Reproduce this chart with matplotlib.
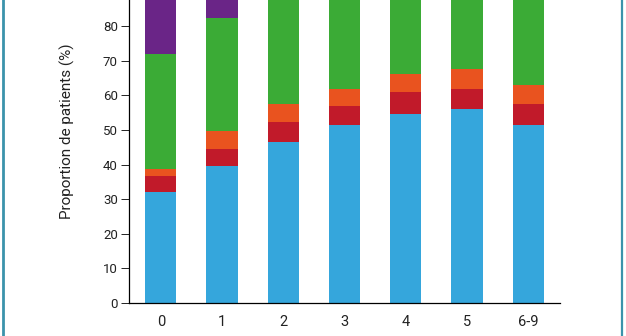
import matplotlib
matplotlib.use("Agg")
import matplotlib.pyplot as plt
import numpy as np

# Share of patients (%) per score group, stacked from bottom to top
categories = ["0", "1", "2", "3", "4", "5", "6-9"]
blue = [32.2, 39.6, 46.6, 51.4, 54.7, 56.1, 51.4]
red = [4.6, 5.0, 5.6, 5.5, 6.4, 5.8, 6.2]
orange = [1.8, 5.2, 5.3, 5.1, 5.1, 5.7, 5.4]
green = [33.3, 32.6, 33.5, 28.0, 25.8, 27.4, 29.0]
purple = [28.1, 17.6, 9.0, 10.0, 8.0, 5.0, 8.0]

series = [blue, red, orange, green, purple]
colors = ["#35a6dc", "#c11a2a", "#e9531f", "#3bab36", "#6a2587"]

plt.rcParams['font.family'] = ['Roboto', 'DejaVu Sans']

fig = plt.figure(figsize=(6.26, 3.36), dpi=100)
ax = fig.add_axes([129 / 626, 33 / 336, (560 - 129) / 626, 303 / 336])

x = np.arange(len(categories))
bottom = np.zeros(len(categories))
for vals, col in zip(series, colors):
    ax.bar(x, vals, width=0.51, bottom=bottom, color=col, linewidth=0)
    bottom += np.array(vals)

ax.set_xlim(-0.52, 6.52)
ax.set_ylim(0, 87.6)
ax.set_yticks(range(0, 90, 10))
ax.set_xticks(x)
ax.set_xticklabels(categories)

for s in ["top", "right"]:
    ax.spines[s].set_visible(False)
ax.spines["left"].set_linewidth(0.9)
ax.spines["bottom"].set_linewidth(0.9)

ax.tick_params(axis="y", length=6, width=0.7, pad=2, labelsize=9.5, colors="#222222")
ax.tick_params(axis="x", length=0, pad=9, labelsize=10.5, colors="#222222")
ax.set_ylabel("Proportion de patients (%)", fontsize=11, color="#222222")
ax.yaxis.set_label_coords(-0.125, (303 - 131) / 303)

# thin framing lines at both sides of the figure
fig.add_artist(plt.Line2D([3 / 626, 3 / 626], [0, 1], color="#3b93ab", linewidth=2))
fig.add_artist(plt.Line2D([621.5 / 626, 621.5 / 626], [0, 1], color="#3b93ab", linewidth=1.6))

fig.savefig("out.png", dpi=100)
